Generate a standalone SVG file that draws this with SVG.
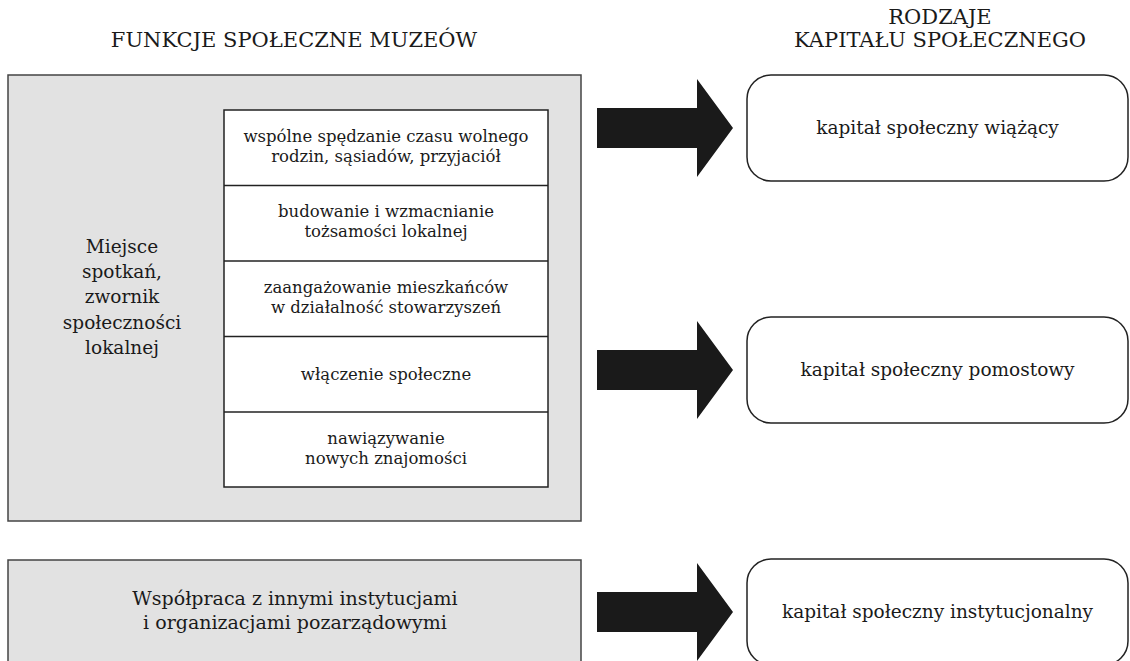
<svg xmlns="http://www.w3.org/2000/svg" width="1130" height="661" viewBox="0 0 1130 661">
<style>
.t{font-family:'DejaVu Serif','Liberation Serif',serif;fill:#1a1a1a;text-anchor:middle}
.title{font-size:21px}
.main{font-size:18.5px}
.wide{font-size:19px}
.row{font-size:16.5px}
.gray{fill:#e2e2e2;stroke:#444;stroke-width:1.5}
.white{fill:#fff;stroke:#222;stroke-width:1.5}
.cap{fill:#fff;stroke:#222;stroke-width:1.5}
.arrow{fill:#1a1a1a}
</style>
<rect width="1130" height="661" fill="#fff"/>
<g id="titles" class="t">
<text class="title" x="294" y="47">FUNKCJE SPOŁECZNE MUZEÓW</text>
<text class="title" x="940" y="24">RODZAJE</text>
<text class="title" x="940" y="47">KAPITAŁU SPOŁECZNEGO</text>
</g>
<g id="miejsce">
<rect class="gray" x="8" y="75" width="573" height="446"/>
<g class="t">
<text class="main" x="122" y="253">Miejsce</text>
<text class="main" x="122" y="278">spotkań,</text>
<text class="main" x="122" y="303">zwornik</text>
<text class="main" x="122" y="329">społeczności</text>
<text class="main" x="122" y="354">lokalnej</text>
</g>
</g>
<g id="funkcje">
<rect class="white" x="224" y="110" width="324" height="377"/>
<line x1="224" y1="185.5" x2="548" y2="185.5" stroke="#222" stroke-width="1.5"/>
<line x1="224" y1="261" x2="548" y2="261" stroke="#222" stroke-width="1.5"/>
<line x1="224" y1="336.5" x2="548" y2="336.5" stroke="#222" stroke-width="1.5"/>
<line x1="224" y1="412" x2="548" y2="412" stroke="#222" stroke-width="1.5"/>
</g>
<g id="f1" class="t"><text class="row" x="386" y="142">wspólne spędzanie czasu wolnego</text><text class="row" x="386" y="162">rodzin, sąsiadów, przyjaciół</text></g>
<g id="f2" class="t"><text class="row" x="386" y="217">budowanie i wzmacnianie</text><text class="row" x="386" y="237">tożsamości lokalnej</text></g>
<g id="f3" class="t"><text class="row" x="386" y="293">zaangażowanie mieszkańców</text><text class="row" x="386" y="313">w działalność stowarzyszeń</text></g>
<g id="f4" class="t"><text class="row" x="386" y="380">włączenie społeczne</text></g>
<g id="f5" class="t"><text class="row" x="386" y="444">nawiązywanie</text><text class="row" x="386" y="464">nowych znajomości</text></g>
<g id="wspolpraca">
<rect class="gray" x="8" y="560" width="573" height="130"/>
<g class="t">
<text class="wide" x="295" y="605">Współpraca z innymi instytucjami</text>
<text class="wide" x="295" y="629">i organizacjami pozarządowymi</text>
</g>
</g>
<g id="k1">
<rect class="cap" x="747" y="75" width="381" height="106" rx="24"/>
<text class="t main" x="937.5" y="134">kapitał społeczny wiążący</text>
</g>
<g id="k2">
<rect class="cap" x="747" y="317" width="381" height="106" rx="24"/>
<text class="t main" x="937.5" y="376">kapitał społeczny pomostowy</text>
</g>
<g id="k3">
<rect class="cap" x="747" y="559" width="381" height="106" rx="24"/>
<text class="t main" x="937.5" y="618">kapitał społeczny instytucjonalny</text>
</g>
<g id="connectors">
<polygon class="arrow" points="597,108 697,108 697,79 733,128 697,177 697,148 597,148"/>
<polygon class="arrow" points="597,350 697,350 697,321 733,370 697,419 697,390 597,390"/>
<polygon class="arrow" points="597,592 697,592 697,563 733,612 697,661 697,632 597,632"/>
</g>
</svg>
